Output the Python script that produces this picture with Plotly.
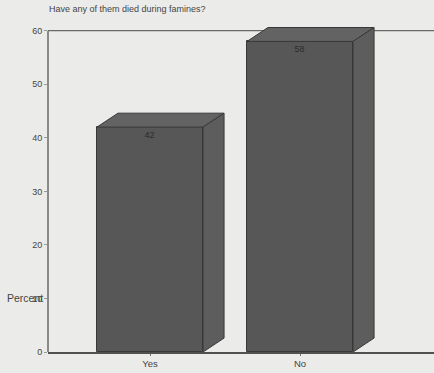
import plotly.graph_objects as go

# Survey answers (percent of respondents)
categories = ["Yes", "No"]
percents = [42, 58]
y_ticks = [0, 10, 20, 30, 40, 50, 60]
title_text = "Have any of them died during famines?"
axis_title = "Percent"

# Bar geometry in axis units
bar_w = 0.707
depth_x = 0.14
depth_y = 2.6

front = "#575757"
top_c = "#636363"
side_c = "#5d5d5d"
edge = "#383838"
bg = "#ebebe9"
txt = "#454545"
font = "Liberation Sans, Arial, sans-serif"

xs = list(range(len(categories)))

fig = go.Figure()

fig.add_trace(go.Bar(
    x=xs, y=percents, width=bar_w,
    marker=dict(color=front, line=dict(color=edge, width=1)),
    text=[str(v) for v in percents], textposition="inside",
    insidetextanchor="end", textangle=0,
    textfont=dict(family=font, size=9, color="#2c2c2c"),
    showlegend=False, hoverinfo="skip",
))

# Pseudo-3D top and side faces, derived from each bar's value
for x, v in zip(xs, percents):
    xl, xr = x - bar_w / 2, x + bar_w / 2
    fig.add_trace(go.Scatter(
        x=[xl, xl + depth_x, xr + depth_x, xr, xl],
        y=[v, v + depth_y, v + depth_y, v, v],
        fill="toself", fillcolor=top_c, mode="lines",
        line=dict(color=edge, width=1), showlegend=False, hoverinfo="skip",
    ))
    fig.add_trace(go.Scatter(
        x=[xr, xr + depth_x, xr + depth_x, xr, xr],
        y=[0, depth_y, v + depth_y, v, 0],
        fill="toself", fillcolor=side_c, mode="lines",
        line=dict(color=edge, width=1), showlegend=False, hoverinfo="skip",
    ))

# Frame: top line at the end of the value range and the left value axis
fig.add_shape(type="line", xref="paper", yref="y", x0=0, x1=1,
              y0=y_ticks[-1], y1=y_ticks[-1], layer="below",
              line=dict(color="#6a6a6a", width=1.3))
fig.add_shape(type="line", xref="paper", yref="y", x0=0, x1=0,
              y0=y_ticks[0], y1=y_ticks[-1], layer="below",
              line=dict(color="#6a6a6a", width=1.5))

fig.add_annotation(text=title_text, xref="paper", yref="paper",
                   x=-0.002, y=1.0, yshift=11, xanchor="left", yanchor="middle",
                   showarrow=False, font=dict(family=font, size=9, color=txt))
fig.add_annotation(text=axis_title, xref="paper", yref="y",
                   x=-0.112, y=10, xanchor="left", yanchor="middle",
                   showarrow=False, font=dict(family=font, size=10.5, color=txt))

fig.update_layout(
    width=434, height=373,
    margin=dict(l=48, r=0, t=20, b=21),
    paper_bgcolor=bg, plot_bgcolor=bg,
    bargap=0,
    xaxis=dict(range=[-0.68, 1.893], tickvals=xs, ticktext=categories,
               showgrid=False, zeroline=False, showline=True,
               linecolor="#505050", linewidth=1.5,
               ticks="outside", ticklen=2, tickcolor="#777777",
               tickfont=dict(family=font, size=9.5, color=txt)),
    yaxis=dict(range=[0, 62], tickvals=y_ticks,
               showgrid=False, zeroline=False, showline=False,
               ticks="outside", ticklen=3, tickcolor="#999999",
               tickfont=dict(family=font, size=9, color=txt)),
)

fig.write_html("out.html")
